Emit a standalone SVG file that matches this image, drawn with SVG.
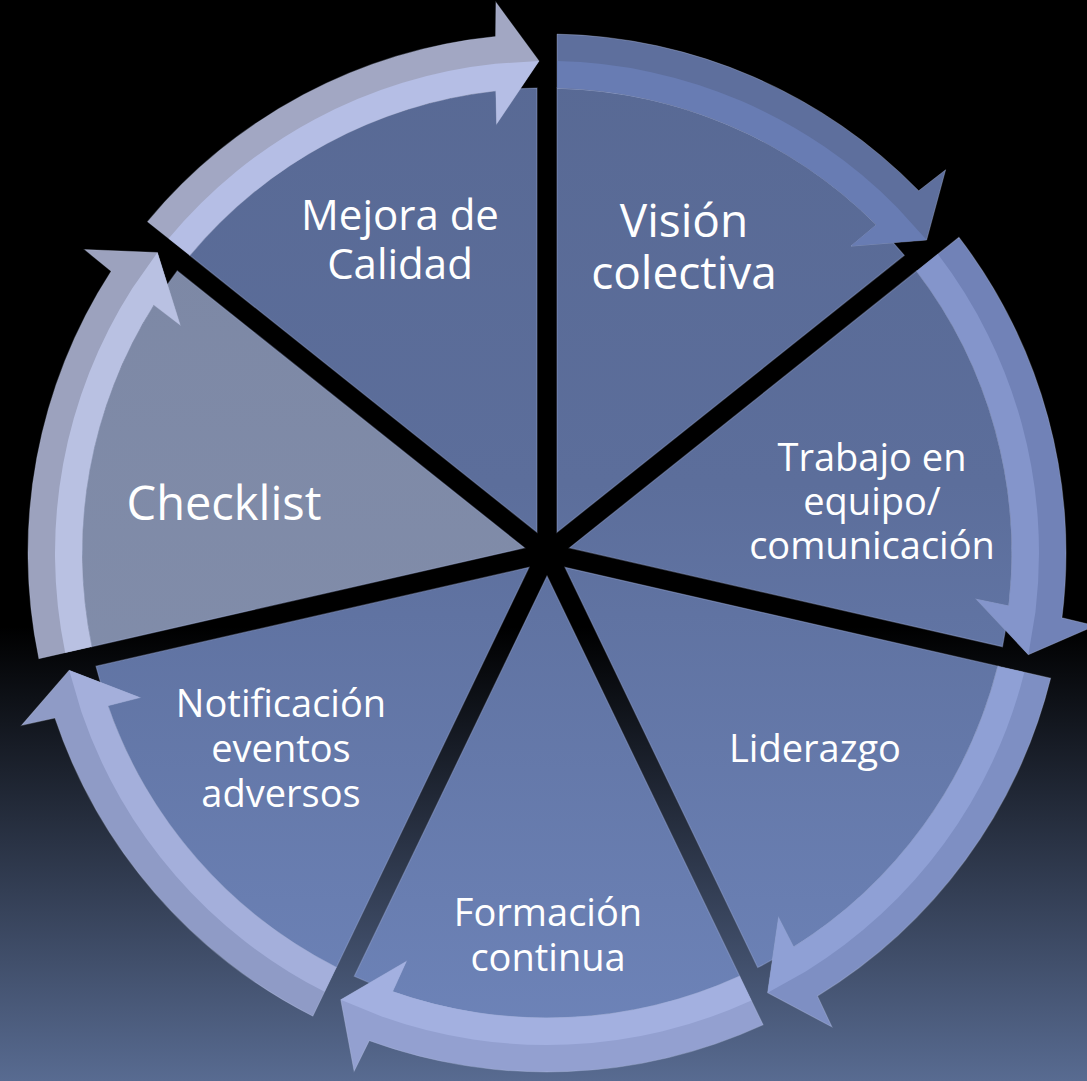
<svg xmlns="http://www.w3.org/2000/svg" width="1087" height="1081" viewBox="0 0 1087 1081">
<defs>
<linearGradient id="bg" x1="0" y1="0" x2="0" y2="1">
<stop offset="0" stop-color="#000"/>
<stop offset="0.58" stop-color="#000"/>
<stop offset="1" stop-color="#586b91"/>
</linearGradient>
<linearGradient id="wg" gradientUnits="userSpaceOnUse" x1="0" y1="-520" x2="0" y2="480">
<stop offset="0" stop-color="#586994"/>
<stop offset="0.45" stop-color="#5c6e9b"/>
<stop offset="1" stop-color="#6d83b8"/>
</linearGradient>
<linearGradient id="wg0" href="#wg"/>
<linearGradient id="wg1" href="#wg" gradientTransform="rotate(-51.4286)"/>
<linearGradient id="wg2" href="#wg" gradientTransform="rotate(-102.8571)"/>
<linearGradient id="wg3" href="#wg" gradientTransform="rotate(-154.2857)"/>
<linearGradient id="wg4" href="#wg" gradientTransform="rotate(-205.7143)"/>
<linearGradient id="wg6" href="#wg" gradientTransform="rotate(-308.5714)"/>
<linearGradient id="wgc" gradientUnits="userSpaceOnUse" x1="0" y1="-520" x2="0" y2="480" gradientTransform="rotate(-257.1429)">
<stop offset="0" stop-color="#7b86a3"/>
<stop offset="1" stop-color="#8490ad"/>
</linearGradient>
<path id="wedge" d="M 10 -20.77 L 10 -464.89 A 465 465 0 0 1 357.23 -297.68 Z"/>
<path id="arrow" d="M 10 -518.9 A 519 519 0 0 1 371.69 -362.23 L 398.66 -383.26 L 379.64 -312.95 L 304.02 -306.91 L 329.43 -328.18 A 465 465 0 0 0 10 -464.89 Z"/>
<path id="arrowLit" d="M 10 -491.9 A 492 492 0 0 1 350.43 -345.34 L 379.64 -312.95 L 304.02 -306.91 L 329.43 -328.18 A 465 465 0 0 0 10 -464.89 Z"/>
</defs>
<style>
text { font-family: "Open Sans", "Noto Sans", "DejaVu Sans", sans-serif; fill: #ffffff; text-anchor: middle; }
.wedge { stroke: #a9b8e6; stroke-opacity: 0.35; stroke-width: 1.2; }
.arr { stroke: #c8d0f0; stroke-opacity: 0.3; stroke-width: 1; }
</style>
<rect x="0" y="0" width="1087" height="1081" fill="url(#bg)"/>

<g id="node-vision">
<use href="#wedge" class="wedge" fill="url(#wg0)" transform="translate(547 553) rotate(0)"/>
<text font-size="46"><tspan x="684" y="237">Visión</tspan><tspan x="684" y="289">colectiva</tspan></text>
</g>
<g id="node-trabajo">
<use href="#wedge" class="wedge" fill="url(#wg1)" transform="translate(547 553) rotate(51.4286)"/>
<text font-size="38"><tspan x="872" y="471">Trabajo en</tspan><tspan x="872" y="515">equipo/</tspan><tspan x="872" y="559">comunicación</tspan></text>
</g>
<g id="node-liderazgo">
<use href="#wedge" class="wedge" fill="url(#wg2)" transform="translate(547 553) rotate(102.8571)"/>
<text font-size="38"><tspan x="815" y="762">Liderazgo</tspan></text>
</g>
<g id="node-formacion">
<use href="#wedge" class="wedge" fill="url(#wg3)" transform="translate(547 553) rotate(154.2857)"/>
<text font-size="38"><tspan x="548" y="926">Formación</tspan><tspan x="548" y="971">continua</tspan></text>
</g>
<g id="node-notificacion">
<use href="#wedge" class="wedge" fill="url(#wg4)" transform="translate(547 553) rotate(205.7143)"/>
<text font-size="38"><tspan x="281" y="717">Notificación</tspan><tspan x="281" y="762">eventos</tspan><tspan x="281" y="807">adversos</tspan></text>
</g>
<g id="node-checklist">
<use href="#wedge" class="wedge" fill="url(#wgc)" transform="translate(547 553) rotate(257.1429)"/>
<text font-size="47"><tspan x="224" y="520">Checklist</tspan></text>
</g>
<g id="node-mejora">
<use href="#wedge" class="wedge" fill="url(#wg6)" transform="translate(547 553) rotate(308.5714)"/>
<text font-size="42"><tspan x="400" y="230">Mejora de</tspan><tspan x="400" y="279">Calidad</tspan></text>
</g>

<g id="connectors">
<g transform="translate(547 553) rotate(0)"><use href="#arrow" class="arr" fill="#5e6f9d"/><use href="#arrowLit" fill="#687cb3"/></g>
<g transform="translate(547 553) rotate(51.4286)"><use href="#arrow" class="arr" fill="#7182b7"/><use href="#arrowLit" fill="#8495cb"/></g>
<g transform="translate(547 553) rotate(102.8571)"><use href="#arrow" class="arr" fill="#7e8fc3"/><use href="#arrowLit" fill="#8fa0d5"/></g>
<g transform="translate(547 553) rotate(154.2857)"><use href="#arrow" class="arr" fill="#93a0d0"/><use href="#arrowLit" fill="#a3b0e0"/></g>
<g transform="translate(547 553) rotate(205.7143)"><use href="#arrow" class="arr" fill="#8f9bc6"/><use href="#arrowLit" fill="#a4afdb"/></g>
<g transform="translate(547 553) rotate(257.1429)"><use href="#arrow" class="arr" fill="#9ca2be"/><use href="#arrowLit" fill="#b9c1e2"/></g>
<g transform="translate(547 553) rotate(308.5714)"><use href="#arrow" class="arr" fill="#a2a7c3"/><use href="#arrowLit" fill="#b5bee5"/></g>
</g>
</svg>
